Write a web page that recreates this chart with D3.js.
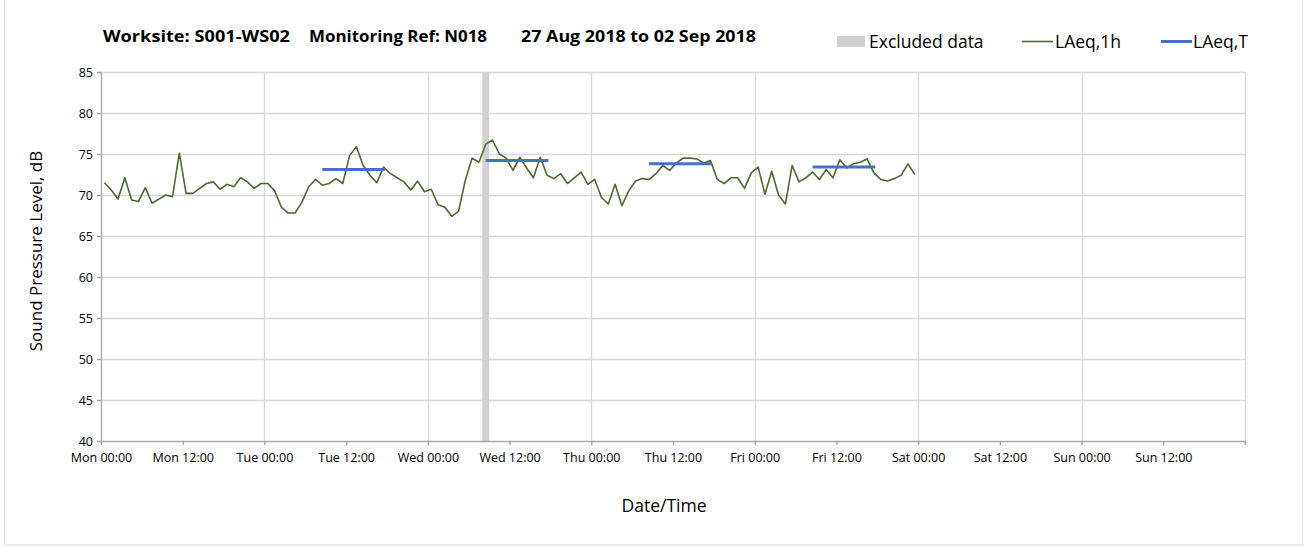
<!DOCTYPE html>
<html>
<head>
<meta charset="utf-8">
<script src="https://cdn.jsdelivr.net/npm/d3@7"></script>
<style>
  html, body { margin: 0; padding: 0; background: #fff; }
  svg { display: block; font-family: "Open Sans", "Lato", sans-serif; }
</style>
</head>
<body>
<svg id="chart" width="1309" height="547"></svg>
<script>
// ---- data ----
const titleParts = ["Worksite: S001-WS02", "Monitoring Ref: N018", "27 Aug 2018 to 02 Sep 2018"];
const yTicks = [40, 45, 50, 55, 60, 65, 70, 75, 80, 85];
const xTickHours = [0, 12, 24, 36, 48, 60, 72, 84, 96, 108, 120, 132, 144, 156];
const xTickLabels = ["Mon 00:00", "Mon 12:00", "Tue 00:00", "Tue 12:00", "Wed 00:00", "Wed 12:00",
  "Thu 00:00", "Thu 12:00", "Fri 00:00", "Fri 12:00", "Sat 00:00", "Sat 12:00", "Sun 00:00", "Sun 12:00"];
// hourly LAeq,1h values, Mon 00:00 - Fri 24:00 (plotted at mid-hour)
const laeq1h = [
  71.5, 70.6, 69.5, 72.1, 69.4, 69.2, 70.9, 69.0, 69.5, 70.0, 69.8, 75.1,
  70.2, 70.2, 70.8, 71.4, 71.6, 70.7, 71.3, 71.0, 72.1, 71.6, 70.8, 71.4,
  71.4, 70.5, 68.5, 67.8, 67.8, 69.1, 71.0, 71.9, 71.2, 71.4, 72.0, 71.4,
  74.8, 75.9, 73.6, 72.4, 71.5, 73.4, 72.6, 72.1, 71.6, 70.6, 71.7, 70.4,
  70.7, 68.8, 68.5, 67.4, 68.0, 71.8, 74.5, 74.0, 76.2, 76.7, 75.0, 74.5,
  73.0, 74.6, 73.3, 72.1, 74.6, 72.4, 72.0, 72.6, 71.4, 72.1, 72.8, 71.3,
  71.9, 69.7, 68.9, 71.3, 68.7, 70.5, 71.7, 72.0, 71.9, 72.6, 73.6, 73.0,
  73.9, 74.5, 74.5, 74.4, 73.9, 74.2, 71.9, 71.4, 72.1, 72.1, 70.8, 72.7,
  73.4, 70.1, 72.9, 70.0, 68.9, 73.6, 71.6, 72.1, 72.8, 71.9, 73.1, 72.1,
  74.3, 73.3, 73.8, 74.0, 74.4, 72.7, 71.9, 71.7, 72.0, 72.4, 73.8, 72.5
];
const hourOffset = 0.5;
// LAeq,T daytime periods (start hour, end hour, level)
const laeqTStart = [32.5, 56.5, 80.5, 104.5];
const laeqTEnd = [41.7, 65.7, 89.7, 113.7];
const laeqTValue = [73.1, 74.2, 73.8, 73.4];
// excluded periods (hours)
const exclStart = [56];
const exclEnd = [57];
const legendLabels = ["Excluded data", "LAeq,1h", "LAeq,T"];

// ---- layout ----
const svg = d3.select("#chart");
const L = 101, R = 1245, T = 72, B = 441;
const x = d3.scaleLinear().domain([0, 168]).range([L, R]);
const y = d3.scaleLinear().domain([40, 85]).range([B, T]);
const gridColor = "#d9d9d9", axisColor = "#a6a6a6";
const green = "#4a6b2e", blue = "#4472c4", grey = "#d0d0d0";

// outer border
svg.append("rect").attr("x", 4.5).attr("y", -1).attr("width", 1298).attr("height", 546)
  .attr("fill", "none").attr("stroke", "#d9d9d9");

// horizontal grid
svg.append("g").selectAll("line").data(yTicks.filter(d => d > 40)).join("line")
  .attr("x1", L).attr("x2", R).attr("y1", d => Math.round(y(d)) + 0.5).attr("y2", d => Math.round(y(d)) + 0.5)
  .attr("stroke", gridColor).attr("stroke-width", 1.3);
// vertical grid every 24 h
svg.append("g").selectAll("line").data(d3.range(24, 169, 24)).join("line")
  .attr("y1", T).attr("y2", B).attr("x1", d => Math.round(x(d)) + 0.5).attr("x2", d => Math.round(x(d)) + 0.5)
  .attr("stroke", gridColor).attr("stroke-width", 1.3);

// excluded band
svg.append("g").selectAll("rect").data(exclStart.map((s, i) => [s, exclEnd[i]])).join("rect")
  .attr("x", d => x(d[0])).attr("width", d => x(d[1]) - x(d[0]))
  .attr("y", T).attr("height", B - T).attr("fill", grey);

// axes
const yAxis = d3.axisLeft(y).tickValues(yTicks).tickSize(4).tickFormat(d3.format("d"));
const gy = svg.append("g").attr("transform", `translate(${L},0)`).call(yAxis);
const xAxis = d3.axisBottom(x).tickValues(xTickHours.concat([168])).tickSize(4)
  .tickFormat((d, i) => xTickLabels[i] || "");
const gx = svg.append("g").attr("transform", `translate(0,${B})`).call(xAxis);
[gy, gx].forEach(g => {
  g.select(".domain").attr("stroke", axisColor).attr("stroke-width", 1.3);
  g.selectAll(".tick line").attr("stroke", axisColor).attr("stroke-width", 1.3);
  g.selectAll("text").attr("fill", "#000").style("font-size", "12.5px")
    .style("font-family", "'Open Sans', sans-serif");
});
gy.selectAll("text").attr("x", -8).attr("dy", "0.32em");
gx.selectAll("text").attr("y", 12).attr("dy", "0.71em");

// LAeq,1h line
const line = d3.line().x((d, i) => x(i + hourOffset)).y(d => y(d));
svg.append("path").datum(laeq1h).attr("d", line).attr("fill", "none")
  .attr("stroke", green).attr("stroke-width", 1.6).attr("stroke-linejoin", "round");

// LAeq,T lines
svg.append("g").selectAll("line").data(laeqTValue).join("line")
  .attr("x1", (d, i) => x(laeqTStart[i])).attr("x2", (d, i) => x(laeqTEnd[i]))
  .attr("y1", d => y(d)).attr("y2", d => y(d))
  .attr("stroke", blue).attr("stroke-width", 3);

// title
const titleX = [103, 309, 521];
const titleW = [187, 178, 235];
svg.append("g").selectAll("text").data(titleParts).join("text")
  .attr("x", (d, i) => titleX[i]).attr("y", 42)
  .attr("textLength", (d, i) => titleW[i]).attr("lengthAdjust", "spacingAndGlyphs")
  .style("font-size", "16.5px").style("font-weight", "bold").text(d => d);

// legend
const lg = svg.append("g");
lg.append("rect").attr("x", 837).attr("y", 36).attr("width", 28).attr("height", 11).attr("fill", grey);
lg.append("text").attr("x", 869).attr("y", 48).style("font-size", "17.5px").text(legendLabels[0]);
lg.append("line").attr("x1", 1022).attr("x2", 1053).attr("y1", 41.5).attr("y2", 41.5)
  .attr("stroke", green).attr("stroke-width", 1.6);
lg.append("text").attr("x", 1055).attr("y", 48).style("font-size", "17.5px").text(legendLabels[1]);
lg.append("line").attr("x1", 1161).attr("x2", 1192).attr("y1", 41.5).attr("y2", 41.5)
  .attr("stroke", blue).attr("stroke-width", 3);
lg.append("text").attr("x", 1193).attr("y", 48).style("font-size", "17.5px").text(legendLabels[2]);

// axis titles
svg.append("text").attr("transform", "translate(42,251) rotate(-90)").attr("text-anchor", "middle")
  .style("font-size", "17px").text("Sound Pressure Level, dB");
svg.append("text").attr("x", 664).attr("y", 512).attr("text-anchor", "middle")
  .style("font-size", "17.5px").text("Date/Time");
</script>
</body>
</html>
